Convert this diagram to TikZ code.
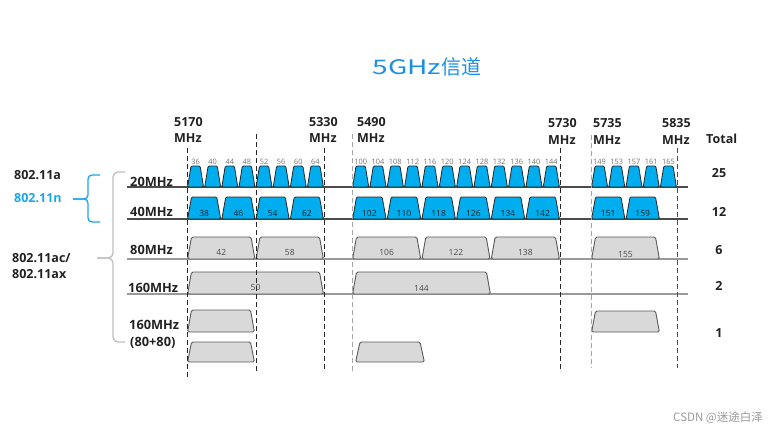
\documentclass[tikz,border=0pt]{standalone}
\usepackage{fontspec}
\usepackage{graphicx}
\setmainfont{Open Sans}
\newfontfamily\cjk{Noto Sans CJK SC}
\definecolor{chblue}{HTML}{00AEEF}
\definecolor{ttblue}{HTML}{1A8FE3}
\definecolor{nblue}{HTML}{1BA6EA}
\definecolor{txt}{HTML}{222222}
\newcommand{\trap}[6]{%
  \draw[#6] ({#1+0.6},#4) -- ({#1+#5},#3) -- ({#2-#5},#3) -- ({#2-0.6},#4) -- cycle;}
\newcommand{\chblock}[9]{%
  \foreach \c [count=\i from 0] in {#3}{%
    \pgfmathsetmacro\xa{#1+\i*#2}%
    \pgfmathsetmacro\xb{\xa+#2}%
    \trap{\xa}{\xb}{#4}{#5}{#6}{#7}%
    \node[#8] (n#5c\c) at ({(\xa+\xb)/2},#9) {\c};
  }}
\begin{document}
\begin{tikzpicture}[x=1pt,y=-1pt,
  lbl/.style={font=\fontsize{12.5}{14}\selectfont\bfseries, text=txt, inner sep=0},
  rowlbl/.style={font=\fontsize{12.8}{14}\selectfont\bfseries, text=txt, inner sep=0, anchor=west},
  tot/.style={font=\fontsize{12.5}{14}\selectfont\bfseries, text=txt, inner sep=0},
  chnum/.style={font=\fontsize{7.4}{8}\selectfont, text=black!55, inner sep=0},
  nforty/.style={font=\fontsize{8.5}{9}\selectfont, text=txt, inner sep=0},
  ngray/.style={font=\fontsize{8.5}{9}\selectfont, text=black!70, inner sep=0},
  bluech/.style={fill=chblue, draw=black!85, line width=0.8pt, rounded corners=1.2pt},
  graych/.style={fill=black!15, draw=black!65, line width=0.9pt, rounded corners=1.5pt},
  darkbase/.style={draw=black!70, line width=1.2pt},
  lightbase/.style={draw=black!40, line width=1.5pt},
  vdash/.style={draw=black!85, line width=0.9pt, dash pattern=on 5pt off 3pt},
  vdashg/.style={draw=black!35, line width=0.9pt, dash pattern=on 5pt off 3pt},
]
\useasboundingbox (0,0) rectangle (770,433);

% title
\node[text=ttblue, inner sep=0] (title) at (427,67) {\cjk\fontsize{20}{24}\selectfont\scalebox{1.4}[1]{5GHz}信道};

% frequency labels
\node[lbl, anchor=base west] (f1a) at (174,126) {5170};
\node[lbl, anchor=base west] (f1b) at (174,142.5) {MHz};
\node[lbl, anchor=base west] (f2a) at (309,126) {5330};
\node[lbl, anchor=base west] (f2b) at (309,142.5) {MHz};
\node[lbl, anchor=base west] (f3a) at (357,126) {5490};
\node[lbl, anchor=base west] (f3b) at (357,142.5) {MHz};
\node[lbl, anchor=base west] (f4a) at (548,128) {5730};
\node[lbl, anchor=base west] (f4b) at (548,144.5) {MHz};
\node[lbl, anchor=base west] (f5a) at (593,128) {5735};
\node[lbl, anchor=base west] (f5b) at (593,144.5) {MHz};
\node[lbl, anchor=base west] (f6a) at (662,128) {5835};
\node[lbl, anchor=base west] (f6b) at (662,144.5) {MHz};
\node[lbl, anchor=base west] (total) at (706,143) {Total};

% totals
\node[tot] (t20) at (719,173) {25};
\node[tot] (t40) at (719,212) {12};
\node[tot] (t80) at (719,250) {6};
\node[tot] (t160) at (719,286) {2};
\node[tot] (t8080) at (719,333) {1};

% row labels
\node[rowlbl] (r20) at (130,182) {20MHz};
\node[rowlbl] (r40) at (130,212) {40MHz};
\node[rowlbl] (r80) at (130,250) {80MHz};
\node[rowlbl] (r160) at (128,288) {160MHz};
\node[rowlbl] (r8080a) at (129,325) {160MHz};
\node[rowlbl] (r8080b) at (130,343) {(80+80)};

% standards
\node[lbl, anchor=west] (sa) at (14,175) {802.11a};
\node[lbl, anchor=west, text=nblue] (sn) at (14,198) {802.11n};
\node[lbl, anchor=west] (sac) at (12,258) {802.11ac/};
\node[lbl, anchor=west] (sax) at (12,274) {802.11ax};

% braces
\draw[nblue, line width=1.3pt, rounded corners=4pt] (100,175) -- (88,175) -- (88,199) -- (73,199);
\draw[nblue, line width=1.3pt, rounded corners=4pt] (73,199) -- (88,199) -- (88,222) -- (100,222);
\draw[black!25, line width=1.3pt, rounded corners=5pt] (125,172) -- (113,172) -- (113,258) -- (97,258);
\draw[black!25, line width=1.3pt, rounded corners=5pt] (97,258) -- (113,258) -- (113,342) -- (125,342);

% baselines
\draw[darkbase] (127,187) -- (688,187);
\draw[darkbase] (127,219) -- (688,219);
\draw[lightbase] (127,259) -- (688,259);
\draw[lightbase] (127,294) -- (688,294);

% 20 MHz
\chblock{187}{17.125}{36,40,44,48,52,56,60,64}{166}{187}{4}{bluech}{chnum}{161.5}
\chblock{352}{17.3333}{100,104,108,112,116,120,124,128,132,136,140,144}{166}{187}{4}{bluech}{chnum}{161.5}
\chblock{591}{17.2}{149,153,157,161,165}{166}{187}{4}{bluech}{chnum}{161.5}

% 40 MHz
\chblock{187}{34.25}{38,46,54,62}{197}{219}{4.5}{bluech}{nforty}{213.5}
\chblock{352}{34.6667}{102,110,118,126,134,142}{197}{219}{4.5}{bluech}{nforty}{213.5}
\chblock{591}{34.5}{151,159}{197}{219}{4.5}{bluech}{nforty}{213.5}

% 80 MHz
\chblock{187}{68.5}{42,58}{237}{259}{4.5}{graych}{ngray}{252}
\chblock{352}{69.3333}{106,122,138}{237}{259}{4.5}{graych}{ngray}{252}
\trap{591}{660}{237}{259}{4.5}{graych}
\node[ngray] (n259c155) at (625.5,255) {155};

% 160 MHz
\trap{187}{324}{272}{294}{4.5}{graych}
\node[ngray] (n294c50) at (255.5,287) {50};
\trap{352}{491}{272}{294}{4.5}{graych}
\node[ngray] (n294c144) at (421.5,288) {144};

% 160 MHz (80+80)
\trap{187}{255}{310}{332}{4.5}{graych}
\trap{591}{660}{311}{332}{4.5}{graych}
\trap{187}{255}{342}{362}{4.5}{graych}
\trap{355}{425}{342}{362}{5}{graych}

% dashed boundaries
\draw[vdash] (187,148) -- (187,378);
\draw[vdash] (256,134) -- (256,372);
\draw[vdash] (324,148) -- (324,372);
\draw[vdashg] (352,134) -- (352,373);
\draw[vdash] (560,148) -- (560,372);
\draw[vdashg] (591,135) -- (591,368);
\draw[vdash, draw=black!70] (677,148) -- (677,368);

% watermark
\node[text=black!40, inner sep=0, anchor=east] (wm) at (763,418) {\cjk\fontsize{11.5}{13}\selectfont CSDN @迷途白泽};
\end{tikzpicture}
\end{document}
